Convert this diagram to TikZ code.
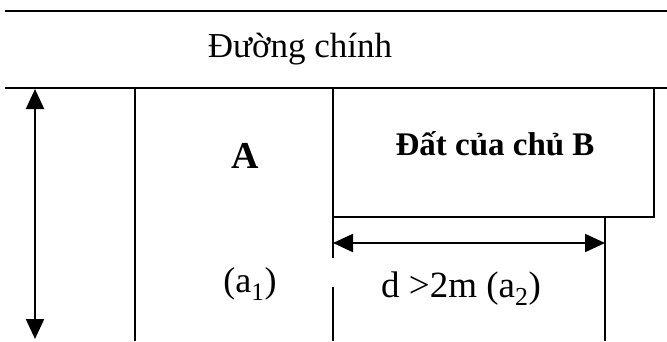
\documentclass[tikz,border=0pt]{standalone}
\usepackage{fontspec}
\setmainfont{Liberation Serif}
\usetikzlibrary{arrows.meta}
\begin{document}
\begin{tikzpicture}[x=1pt,y=-1pt,
  wall/.style={line width=2.2pt,line cap=butt},
  dimarrow/.style={line width=2.2pt,{Triangle[length=20pt,width=18pt]}-{Triangle[length=20pt,width=18pt]}},
  lbl/.style={inner sep=0pt,anchor=base}]
\useasboundingbox (0,0) rectangle (667,341);
% roads
\draw[wall] (5,11) -- (667,11);
\draw[wall] (5,88) -- (667,88);
% verticals
\draw[wall] (135,88) -- (135,341);
\draw[wall] (333,88) -- (333,258);
\draw[wall] (333,287) -- (333,341);
% land of B
\draw[wall] (333,217) -- (654,217) -- (654,88);
\draw[wall] (605,217) -- (605,341);
% dimension arrows
\coordinate (vt) at (35,89);
\coordinate (vb) at (35,339);
\draw[dimarrow] (vt) -- (vb);
\coordinate (hl) at (333,243);
\coordinate (hr) at (605,243);
\draw[dimarrow] (hl) -- (hr);
% labels
\node[lbl,font=\fontsize{35}{38}\selectfont] (road) at (300,57) {Đường chính};
\node[lbl,font=\bfseries\fontsize{38}{40}\selectfont] (A) at (245,168) {A};
\node[lbl,font=\bfseries\fontsize{33}{36}\selectfont] (B) at (495,155) {Đất của chủ B};
\node[lbl,font=\fontsize{36}{38}\selectfont] (a1) at (250,292) {(a\textsubscript{1})};
\node[lbl,font=\fontsize{37}{40}\selectfont] (a2) at (461,297) {d >2m (a\textsubscript{2})};
\end{tikzpicture}
\end{document}
